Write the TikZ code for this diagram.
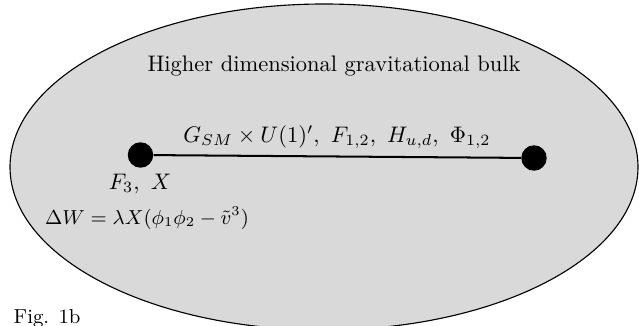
\documentclass[tikz,border=0pt]{standalone}
\begin{document}
\begin{tikzpicture}[x=0.4444pt,y=-0.4444pt,
  dotnode/.style={circle,fill=black,inner sep=0pt,minimum size=11.3pt},
  lbl/.style={inner sep=1pt}]
\useasboundingbox (0,0) rectangle (639,326);
\begin{scope}
\clip (0,0) rectangle (639,326);
\draw[line width=0.5pt,fill=gray!30] (324,167) ellipse [x radius=314, y radius=163];
\end{scope}
\node[dotnode] (dL) at (140.5,155) {};
\node[dotnode] (dR) at (534,158) {};
\draw[line width=0.9pt] (dL) -- (dR);
\node[lbl] (bulk) at (334,66) {Higher dimensional gravitational bulk};
\node[lbl] (brane) at (337,137) {$G_{SM}\times U(1)',\ F_{1,2},\ H_{u,d},\ \Phi_{1,2}$};
\node[lbl] (f3) at (140,184) {$F_3,\ X$};
\node[lbl,font=\small] (dw) at (147,218) {$\Delta W=\lambda X(\phi_1\phi_2-\tilde v^3)$};
\node[lbl,anchor=base west,font=\small] (fig) at (11,324) {Fig. 1b};
\end{tikzpicture}
\end{document}
